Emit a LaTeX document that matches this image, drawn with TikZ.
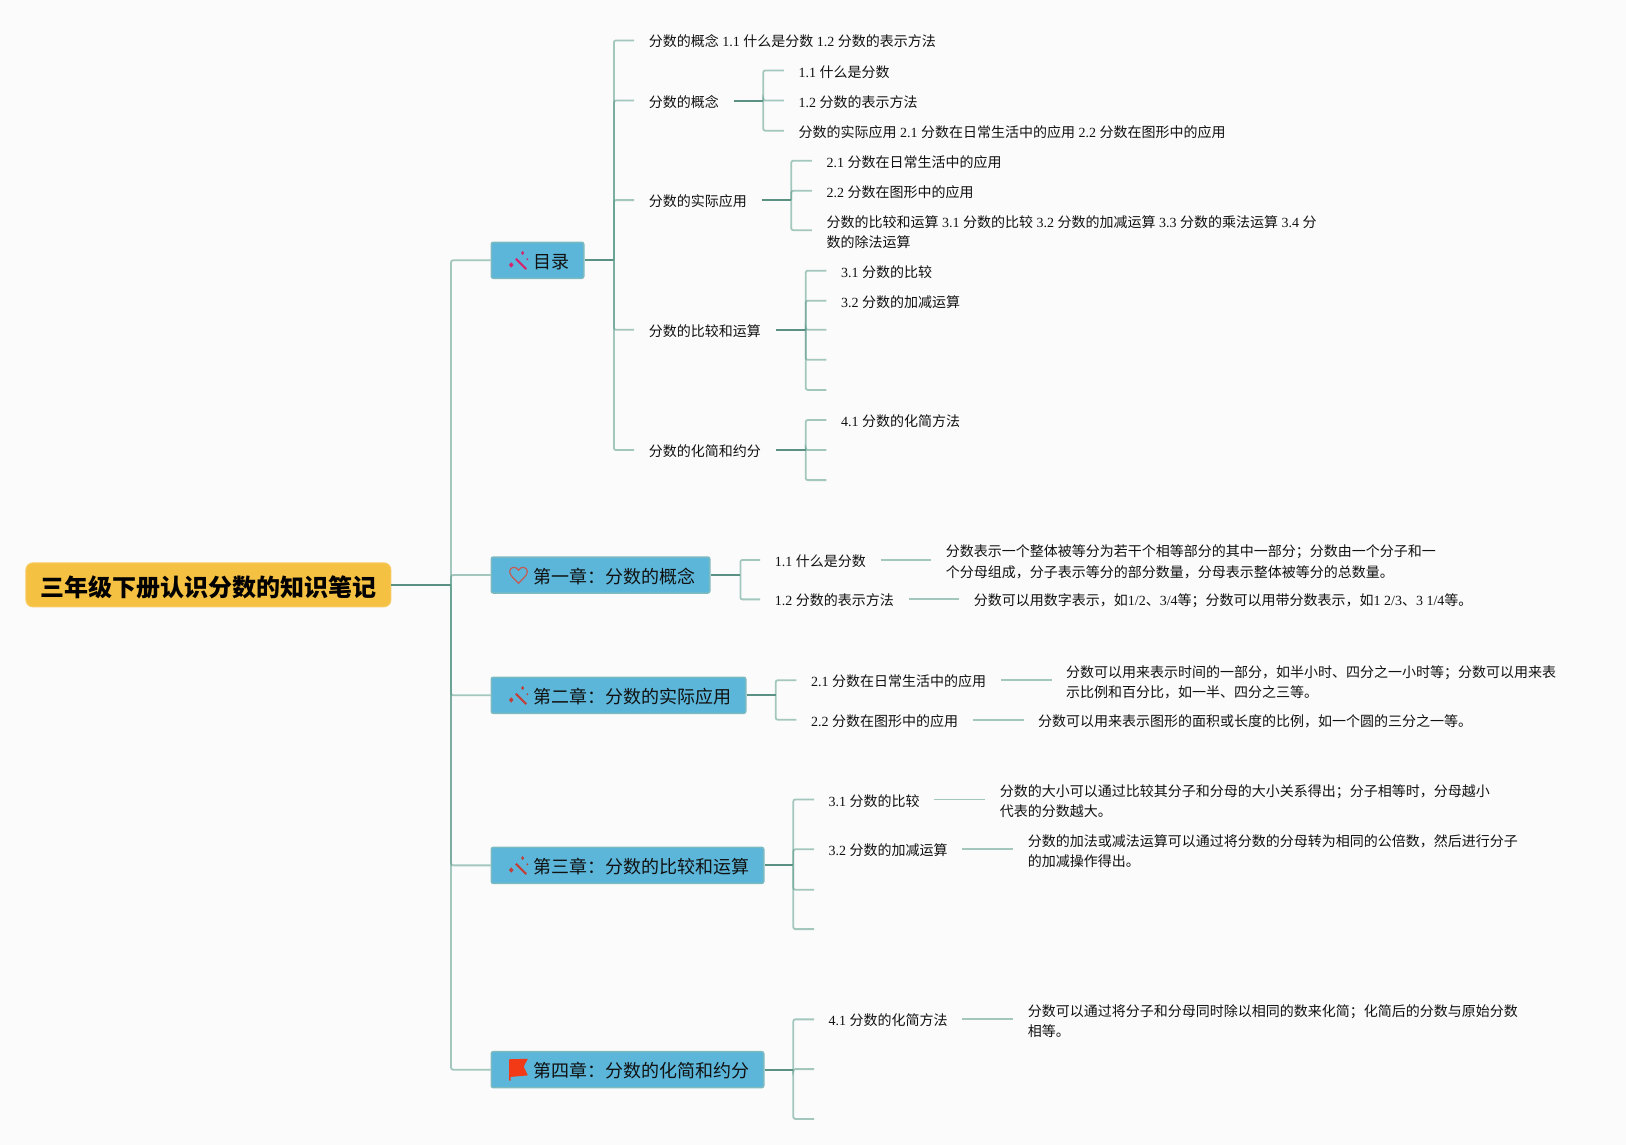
\documentclass[tikz,border=0pt]{standalone}
\usepackage{fontspec}
\setmainfont{Noto Sans CJK SC}
\newfontfamily\latfont{Liberation Serif}
\usetikzlibrary{positioning}
\newcommand{\nm}[1]{{\latfont #1}}
\definecolor{pagebg}{HTML}{FBFBFB}
\definecolor{linkc}{HTML}{5B9C8B}
\definecolor{boxc}{HTML}{5BB6DA}
\definecolor{boxedge}{HTML}{7DBAC0}
\definecolor{rootc}{HTML}{F5C142}
\definecolor{rootedge}{HTML}{F7CD68}
\definecolor{inkc}{HTML}{111111}
\definecolor{pinkc}{HTML}{D6246E}
\definecolor{wandc}{HTML}{C0403A}
\definecolor{heartc}{HTML}{C65B55}
\definecolor{flagc}{HTML}{F23A16}
\tikzset{
rootbox/.style={fill=rootc,draw=rootedge,line width=1pt,rounded corners=7pt,inner xsep=14.5pt,inner ysep=0pt,minimum height=44pt,text height=25pt,text depth=2pt,font=\fontsize{24}{28}\selectfont\bfseries,text=black,anchor=west},
chapbox/.style={fill=boxc,draw=boxedge,line width=1.5pt,rounded corners=2pt,inner xsep=14.5pt,inner ysep=0pt,minimum height=36pt,text height=18pt,text depth=1.5pt,font=\fontsize{18}{22}\selectfont,text=inkc,anchor=west},
leaf/.style={inner xsep=14.5pt,inner ysep=0pt,anchor=west,text height=14pt,text depth=1pt,font=\fontsize{14}{20.3}\selectfont,text=inkc},
note/.style={inner xsep=14.5pt,inner ysep=0pt,anchor=west,align=left,text height=36pt,font=\fontsize{14}{20.3}\selectfont,text=inkc},
lite/.style={draw=linkc,line width=1.8pt,opacity=0.55,rounded corners=2pt},
bold/.style={draw=linkc!90!black,line width=2pt,opacity=0.95}
}
% icons sit just inside the left edge of a chapter box
\newcommand{\wandicon}[2]{
\begin{scope}[shift={(#1)},xshift=28pt]
\draw[#2,line width=2.2pt] (-2.5,-1.5) -- (7.5,8.5);
\fill[#2] (4,-9) -- (5.5,-7) -- (4,-5) -- (2.5,-7) -- cycle;
\fill[#2] (-7,2) -- (-4.7,4.5) -- (-7,7) -- (-9.3,4.5) -- cycle;
\fill[#2] (8.5,-2) -- (9.5,-1) -- (8.5,0) -- (7.5,-1) -- cycle;
\end{scope}
}
\newcommand{\nmgap}{\hspace*{27.5pt}}

\begin{document}
\begin{tikzpicture}[x=1.037pt,y=-1.037pt]
\fill[pagebg] (0,0) rectangle (1568,1104);
\useasboundingbox (0,0) rectangle (1568,1104);

\node[rootbox] (root) at (24.5,564) {三年级下册认识分数的知识笔记};
\node[chapbox] (toc) at (473,251) {\nmgap 目录};
\node[chapbox] (chone) at (473,554.5) {\nmgap 第一章：分数的概念};
\node[chapbox] (chtwo) at (473,670.5) {\nmgap 第二章：分数的实际应用};
\node[chapbox] (chthree) at (473,834.5) {\nmgap 第三章：分数的比较和运算};
\node[chapbox] (chfour) at (473,1031.5) {\nmgap 第四章：分数的化简和约分};

%icons
\wandicon{toc.west}{pinkc}
\wandicon{chtwo.west}{wandc}
\wandicon{chthree.west}{wandc}
\begin{scope}[shift={(chone.west)},xshift=28pt]
\draw[heartc,line width=1.2pt] (0,8) .. controls (-5,3) and (-8.5,0) .. (-8.5,-3.5) .. controls (-8.5,-8) and (-2,-9) .. (0,-4.5) .. controls (2,-9) and (8.5,-8) .. (8.5,-3.5) .. controls (8.5,0) and (5,3) .. (0,8) -- cycle;
\end{scope}
\begin{scope}[shift={(chfour.west)},xshift=28pt]
\fill[flagc] (-9,-10) -- (9,-10.5) -- (5,-3) -- (9,5.5) -- (-7.5,7) -- (-7.5,10.5) -- (-9,10.5) -- cycle;
\end{scope}

%table of contents
\node[leaf] (tA) at (611.5,39) {分数的概念\nm{ 1.1 }什么是分数\nm{ 1.2 }分数的表示方法};
\node[leaf] (tB) at (611.5,97) {分数的概念};
\node[leaf] (tC) at (611.5,193) {分数的实际应用};
\node[leaf] (tD) at (611.5,318) {分数的比较和运算};
\node[leaf] (tE) at (611.5,434) {分数的化简和约分};

\node[leaf] (tBa) at (756,68) {\nm{1.1 }什么是分数};
\node[leaf] (tBb) at (756,97) {\nm{1.2 }分数的表示方法};
\node[leaf] (tBc) at (756,126) {分数的实际应用\nm{ 2.1 }分数在日常生活中的应用\nm{ 2.2 }分数在图形中的应用};

\node[leaf] (tCa) at (783,155) {\nm{2.1 }分数在日常生活中的应用};
\node[leaf] (tCb) at (783,184) {\nm{2.2 }分数在图形中的应用};
\node[note] (tCc) at (783,222) {分数的比较和运算\nm{ 3.1 }分数的比较\nm{ 3.2 }分数的加减运算\nm{ 3.3 }分数的乘法运算\nm{ 3.4 }分\\数的除法运算};

\node[leaf] (tDa) at (797,261) {\nm{3.1 }分数的比较};
\node[leaf] (tDb) at (797,290) {\nm{3.2 }分数的加减运算};
\coordinate (tDc) at (797,318);
\coordinate (tDd) at (797,347);
\coordinate (tDe) at (797,376);

\node[leaf] (tEa) at (797,405) {\nm{4.1 }分数的化简方法};
\coordinate (tEb) at (797,434);
\coordinate (tEc) at (797,463);

%chapter one
\node[leaf] (oA) at (733,540) {\nm{1.1 }什么是分数};
\node[leaf] (oB) at (733,578) {\nm{1.2 }分数的表示方法};
\node[note] (oAx) at (898,540) {分数表示一个整体被等分为若干个相等部分的其中一部分；分数由一个分子和一\\个分母组成，分子表示等分的部分数量，分母表示整体被等分的总数量。};
\node[leaf] (oBx) at (925,578) {分数可以用数字表示，如\nm{1/2}、\nm{3/4}等；分数可以用带分数表示，如\nm{1 2/3}、\nm{3 1/4}等。};

%chapter two
\node[leaf] (wA) at (768,656) {\nm{2.1 }分数在日常生活中的应用};
\node[leaf] (wB) at (768,694) {\nm{2.2 }分数在图形中的应用};
\node[note] (wAx) at (1014,656) {分数可以用来表示时间的一部分，如半小时、四分之一小时等；分数可以用来表\\示比例和百分比，如一半、四分之三等。};
\node[leaf] (wBx) at (987,694) {分数可以用来表示图形的面积或长度的比例，如一个圆的三分之一等。};

%chapter three
\node[leaf] (hA) at (785,771) {\nm{3.1 }分数的比较};
\node[leaf] (hB) at (785,819) {\nm{3.2 }分数的加减运算};
\coordinate (hC) at (785,858);
\coordinate (hD) at (785,896);
\node[note] (hAx) at (950,771) {分数的大小可以通过比较其分子和分母的大小关系得出；分子相等时，分母越小\\代表的分数越大。};
\node[note] (hBx) at (977,819) {分数的加法或减法运算可以通过将分数的分母转为相同的公倍数，然后进行分子\\的加减操作得出。};

%chapter four
\node[leaf] (fA) at (785,983) {\nm{4.1 }分数的化简方法};
\coordinate (fB) at (785,1031);
\coordinate (fC) at (785,1079);
\node[note] (fAx) at (977,983) {分数可以通过将分子和分母同时除以相同的数来化简；化简后的分数与原始分数\\相等。};

%junctions
\coordinate (jroot) at (435,564);
\coordinate (jtoc) at (592,251);
\coordinate (jtB) at (736,97);
\coordinate (jtC) at (763,193);
\coordinate (jtD) at (777,318);
\coordinate (jtE) at (777,434);
\coordinate (jone) at (714,554.5);
\coordinate (jtwo) at (748,670.5);
\coordinate (jthree) at (765,834.5);
\coordinate (jfour) at (765,1031.5);

%connectors
\draw[bold] (root.east) -- (jroot);
\foreach \n in {toc,chone,chtwo,chthree,chfour}
{
\draw[lite] (jroot) |- (\n.west);
}

\draw[bold] (toc.east) -- (jtoc);
\foreach \n in {tA,tB,tC,tD,tE}
{
\draw[lite] (jtoc) |- (\n.west);
}

\draw[bold] (tB.east) -- (jtB);
\foreach \n in {tBa,tBb,tBc}
{
\draw[lite] (jtB) |- (\n.west);
}

\draw[bold] (tC.east) -- (jtC);
\foreach \n in {tCa,tCb,tCc}
{
\draw[lite] (jtC) |- (\n.west);
}

\draw[bold] (tD.east) -- (jtD);
\foreach \n in {tDa.west,tDb.west,tDc,tDd,tDe}
{
\draw[lite] (jtD) |- (\n);
}

\draw[bold] (tE.east) -- (jtE);
\foreach \n in {tEa.west,tEb,tEc}
{
\draw[lite] (jtE) |- (\n);
}

\draw[bold] (chone.east) -- (jone);
\foreach \n in {oA,oB}
{
\draw[lite] (jone) |- (\n.west);
\draw[lite] (\n.east) -- (\n x.west);
}

\draw[bold] (chtwo.east) -- (jtwo);
\foreach \n in {wA,wB}
{
\draw[lite] (jtwo) |- (\n.west);
\draw[lite] (\n.east) -- (\n x.west);
}

\draw[bold] (chthree.east) -- (jthree);
\foreach \n in {hA.west,hB.west,hC,hD}
{
\draw[lite] (jthree) |- (\n);
}
\draw[lite] (hA.east) -- (hAx.west);
\draw[lite] (hB.east) -- (hBx.west);

\draw[bold] (chfour.east) -- (jfour);
\foreach \n in {fA.west,fB,fC}
{
\draw[lite] (jfour) |- (\n);
}
\draw[lite] (fA.east) -- (fAx.west);

\end{tikzpicture}
\end{document}
